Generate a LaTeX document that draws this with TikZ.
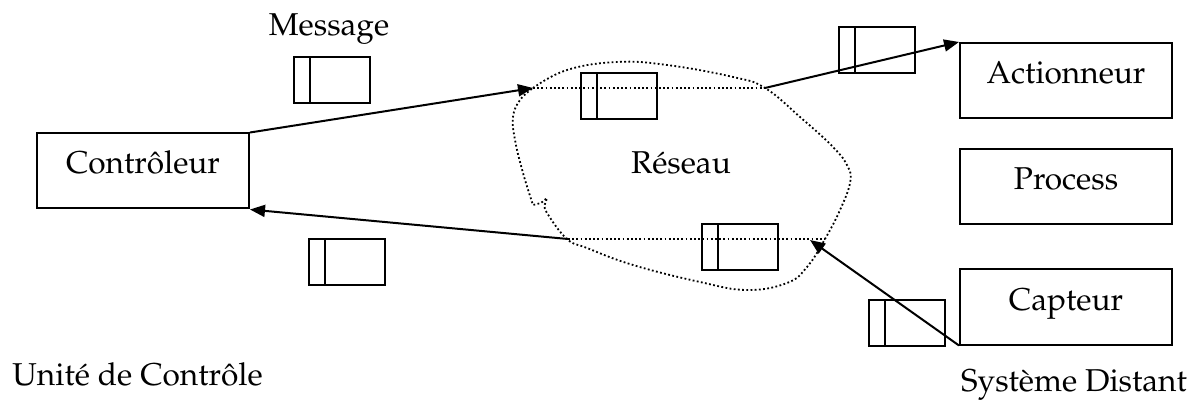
\documentclass[tikz,border=0pt]{standalone}
\usepackage[T1]{fontenc}
\usepackage{mathpazo}
\usetikzlibrary{arrows.meta,calc}

\tikzset{
  boite/.style={draw,line width=1pt,minimum width=106pt,minimum height=37.5pt,inner sep=0pt,text height=8pt,text depth=5pt},
  paquet/.style={draw,line width=1pt,minimum width=38pt,minimum height=23pt,inner sep=0pt,
    path picture={\draw[line width=1pt] ([xshift=8pt]path picture bounding box.north west) -- ([xshift=8pt]path picture bounding box.south west);}},
  fleche/.style={line width=1pt,-{Triangle[length=7.5pt,width=6pt]}},
  pointille/.style={line width=0.9pt,dash pattern=on 0.9pt off 1.2pt}
}

\begin{document}
\begin{tikzpicture}[x=0.5pt,y=-0.5pt,font=\fontsize{15.8pt}{18pt}\selectfont]
    \useasboundingbox (0,0) rectangle (1202,405);

    \node[boite] (ctrl) at (143,171) {Contrôleur};
    \node[boite] (act) at (1066,80.5) {Actionneur};
    \node[boite] (proc) at (1066,186.5) {Process};
    \node[boite] (capt) at (1066,307) {Capteur};

    \node[anchor=base] (msg) at (329,36) {Message};
    \node[anchor=base] (res) at (681,174) {Réseau};
    \node[anchor=base west,inner sep=0pt] (uc) at (12,385) {Unité de Contrôle};
    \node[anchor=base,inner sep=0pt] (sd) at (1074,391) {Système Distant};

    \node[paquet] (m1) at (332,80.5) {};
    \node[paquet] (m2) at (619,96) {};
    \node[paquet] (m3) at (740,247) {};
    \node[paquet] (m4) at (347,262) {};
    \node[paquet] (m5) at (877,50) {};
    \node[paquet] (m6) at (906.5,322.5) {};

    \coordinate (e1) at (533,88);
    \coordinate (s1) at (765,88);
    \coordinate (e2) at (568,239);
    \coordinate (s2) at (825,239);
    \coordinate (r2) at (810,240);

    \draw[pointille] plot[smooth,tension=0.7] coordinates {(533,88) (567,70) (617,62) (667,65) (733,77) (765,88) (800,117) (833,147) (848,167) (850,183) (840,210) (825,239) (807,267) (787,283) (747,290) (700,282) (633,265) (587,248) (567,239) (547,213) (545,204)}
        -- (547,198) -- (541,203)
        -- plot[smooth,tension=0.7] coordinates {(533,205) (523,173) (515,140) (513,117) (520,100) (533,88)};

    \draw[fleche] (ctrl.north east) -- (e1);
    \draw[pointille] (e1) -- (s1);
    \draw[fleche] (s1) -- (act.north west);
    \draw[fleche] (e2) -- (ctrl.south east);
    \draw[pointille] (e2) -- (s2);
    \draw[fleche] (capt.south west) -- (r2);

\end{tikzpicture}
\end{document}
